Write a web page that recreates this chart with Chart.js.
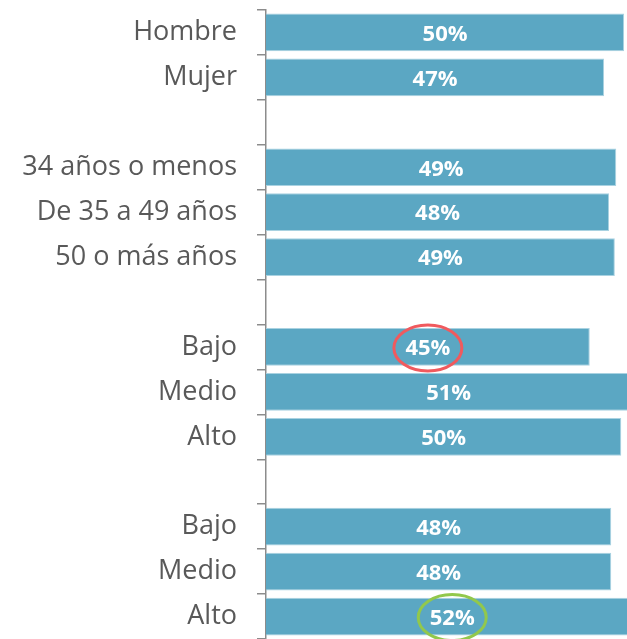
<!DOCTYPE html>
<html>
<head>
<meta charset="utf-8">
<script src="https://cdn.jsdelivr.net/npm/chart.js@4.4.0/dist/chart.umd.min.js"></script>
<style>
  html, body { margin: 0; padding: 0; background: #fff; overflow: hidden; }
  #wrap { width: 627px; height: 639px; position: relative; }
</style>
</head>
<body>
<div id="wrap"><canvas id="grafico"></canvas></div>
<script>
// categorias (linhas vazias separam os grupos)
var categorias = ['Hombre', 'Mujer', '', '34 años o menos', 'De 35 a 49 años', '50 o más años', '',
    'Bajo', 'Medio', 'Alto', '', 'Bajo', 'Medio', 'Alto'];
var valores = [50.0, 47.2, null, 48.9, 47.9, 48.7, null, 45.2, 51.0, 49.6, null, 48.2, 48.2, 52.0];
var rotulos = ['50%', '47%', '', '49%', '48%', '49%', '', '45%', '51%', '50%', '', '48%', '48%', '52%'];
// destaques: indice da barra e cor do circulo
var destaques = [{ indice: 7, cor: '#f05a5e' }, { indice: 13, cor: '#92c84c' }];

var ctx = document.getElementById('grafico').getContext('2d');

// rotulos brancos no meio das barras + elipses de destaque
var pluginRotulos = {
    id: 'rotulos',
    afterDatasetsDraw: function (chart) {
        var c = chart.ctx;
        var meta = chart.getDatasetMeta(0);
        c.save();
        c.font = 'bold 22px "Open Sans"';
        c.fillStyle = '#ffffff';
        c.textAlign = 'center';
        c.textBaseline = 'middle';
        meta.data.forEach(function (bar, i) {
            if (valores[i] == null) return;
            var cx = (bar.base + bar.x) / 2;
            c.fillText(rotulos[i], cx, bar.y + 2);
        });
        destaques.forEach(function (d) {
            var bar = meta.data[d.indice];
            var cx = (bar.base + bar.x) / 2;
            c.beginPath();
            c.ellipse(cx, bar.y + 1, 34, 23, 0, 0, Math.PI * 2);
            c.lineWidth = 3;
            c.strokeStyle = d.cor;
            c.stroke();
        });
        c.restore();
    }
};

var data = {
    labels: categorias,
    datasets: [{
        data: valores,
        backgroundColor: '#5ba7c3',
        borderColor: '#a9d2e1',
        borderWidth: 1,
        barPercentage: 0.84,
        categoryPercentage: 1.0
    }]
};

var options = {
    indexAxis: 'y',
    responsive: true,
    maintainAspectRatio: false,
    animation: false,
    layout: { padding: { top: 10, right: 0, bottom: 0, left: 0 } },
    plugins: { legend: { display: false }, tooltip: { enabled: false } },
    scales: {
        x: { display: false, min: 0, max: 50.4 },
        y: {
            afterFit: function (scale) {
                scale.width = 266;
                scale.paddingTop = 0;
                scale.paddingBottom = 0;
            },
            border: { display: true, color: '#8c8c8c', width: 1.5 },
            grid: { drawOnChartArea: false, offset: true, tickLength: 9, color: '#8c8c8c', lineWidth: 1.5 },
            ticks: { color: '#595959', font: { size: 27, family: '"Open Sans"' }, padding: 20, autoSkip: false }
        }
    }
};

var meuGrafico = new Chart(ctx, {
    type: 'bar',
    data: data,
    options: options,
    plugins: [pluginRotulos]
});
</script>
</body>
</html>
